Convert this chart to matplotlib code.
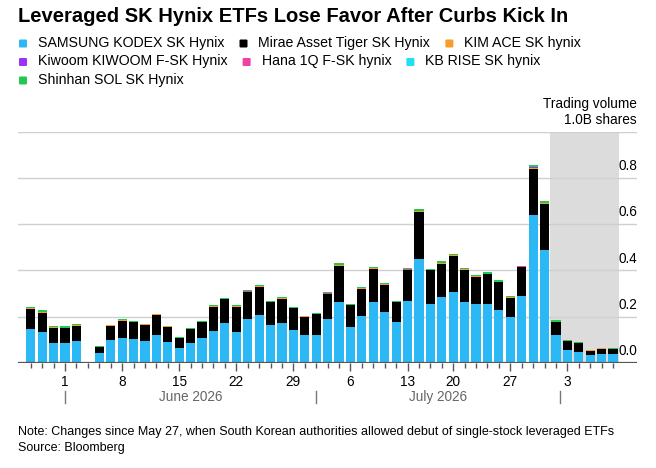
import matplotlib
matplotlib.use("Agg")
import matplotlib.pyplot as plt
import matplotlib.patches as mpatches
import matplotlib.transforms as mtransforms
import numpy as np
import pandas as pd

plt.rcParams["font.family"] = ["Liberation Sans", "DejaVu Sans"]

# trading days: Jul 17 is a holiday and is left out, Jun 3 stays as an empty slot
dates = pd.bdate_range("2026-05-27", "2026-08-07").drop(pd.Timestamp("2026-07-17"))

# trading volume, billions of shares
samsung_kodex = [0.147, 0.134, 0.088, 0.088, 0.096, 0.000, 0.042, 0.099, 0.108, 0.104,
                 0.095, 0.119, 0.091, 0.063, 0.086, 0.108, 0.140, 0.171, 0.134, 0.191,
                 0.209, 0.163, 0.171, 0.141, 0.122, 0.122, 0.192, 0.265, 0.155, 0.205,
                 0.263, 0.220, 0.177, 0.269, 0.450, 0.256, 0.283, 0.308, 0.265, 0.253,
                 0.257, 0.230, 0.197, 0.290, 0.640, 0.489, 0.121, 0.057, 0.049, 0.033,
                 0.039, 0.037]
mirae_tiger = [0.086, 0.081, 0.065, 0.063, 0.065, 0.000, 0.027, 0.062, 0.075, 0.072,
               0.071, 0.090, 0.066, 0.045, 0.059, 0.069, 0.103, 0.104, 0.109, 0.114,
               0.121, 0.099, 0.107, 0.095, 0.078, 0.089, 0.105, 0.156, 0.094, 0.114,
               0.145, 0.119, 0.086, 0.131, 0.203, 0.145, 0.144, 0.156, 0.136, 0.119,
               0.127, 0.120, 0.085, 0.124, 0.197, 0.197, 0.056, 0.036, 0.037, 0.020,
               0.023, 0.023]
kim_ace = [0.003, 0.004, 0.002, 0.002, 0.002, 0.000, 0.001, 0.002, 0.002, 0.002,
           0.001, 0.001, 0.001, 0.001, 0.002, 0.001, 0.002, 0.002, 0.002, 0.003,
           0.003, 0.002, 0.002, 0.002, 0.001, 0.002, 0.003, 0.004, 0.002, 0.003,
           0.003, 0.003, 0.002, 0.003, 0.004, 0.002, 0.004, 0.003, 0.003, 0.003,
           0.002, 0.002, 0.002, 0.002, 0.007, 0.005, 0.002, 0.002, 0.001, 0.001,
           0.001, 0.001]
kiwoom = [0.000, 0.000, 0.000, 0.000, 0.000, 0.000, 0.000, 0.000, 0.000, 0.000,
          0.000, 0.000, 0.000, 0.000, 0.000, 0.000, 0.000, 0.000, 0.000, 0.000,
          0.000, 0.000, 0.000, 0.000, 0.000, 0.000, 0.000, 0.000, 0.000, 0.000,
          0.000, 0.000, 0.000, 0.000, 0.000, 0.000, 0.000, 0.000, 0.000, 0.000,
          0.000, 0.000, 0.000, 0.000, 0.001, 0.000, 0.000, 0.000, 0.000, 0.000,
          0.000, 0.000]
hana = [0.001, 0.001, 0.000, 0.000, 0.000, 0.000, 0.000, 0.000, 0.000, 0.000,
        0.000, 0.000, 0.000, 0.000, 0.000, 0.000, 0.001, 0.000, 0.000, 0.001,
        0.001, 0.000, 0.001, 0.000, 0.000, 0.000, 0.001, 0.000, 0.000, 0.001,
        0.001, 0.001, 0.000, 0.001, 0.000, 0.000, 0.001, 0.001, 0.001, 0.001,
        0.000, 0.000, 0.000, 0.001, 0.002, 0.001, 0.000, 0.000, 0.000, 0.000,
        0.000, 0.000]
kb_rise = [0.000, 0.001, 0.000, 0.000, 0.000, 0.000, 0.000, 0.000, 0.000, 0.000,
           0.000, 0.000, 0.000, 0.000, 0.000, 0.000, 0.000, 0.000, 0.000, 0.000,
           0.000, 0.000, 0.000, 0.000, 0.000, 0.000, 0.000, 0.000, 0.000, 0.000,
           0.000, 0.000, 0.000, 0.000, 0.000, 0.000, 0.000, 0.000, 0.000, 0.000,
           0.000, 0.000, 0.000, 0.000, 0.001, 0.000, 0.000, 0.000, 0.000, 0.000,
           0.000, 0.000]
shinhan = [0.005, 0.008, 0.005, 0.005, 0.005, 0.000, 0.003, 0.003, 0.004, 0.003,
           0.003, 0.003, 0.002, 0.002, 0.003, 0.003, 0.003, 0.004, 0.004, 0.005,
           0.004, 0.004, 0.004, 0.004, 0.002, 0.003, 0.005, 0.008, 0.005, 0.005,
           0.004, 0.004, 0.004, 0.006, 0.009, 0.004, 0.007, 0.005, 0.006, 0.005,
           0.005, 0.005, 0.004, 0.004, 0.009, 0.007, 0.005, 0.003, 0.002, 0.003,
           0.003, 0.002]

series = [
    ("SAMSUNG KODEX SK Hynix", samsung_kodex, "#2bb8f4"),
    ("Mirae Asset Tiger SK Hynix", mirae_tiger, "#000000"),
    ("KIM ACE SK hynix", kim_ace, "#f89c2c"),
    ("Kiwoom KIWOOM F-SK Hynix", kiwoom, "#9b33f5"),
    ("Hana 1Q F-SK hynix", hana, "#f23fa5"),
    ("KB RISE SK hynix", kb_rise, "#1ee0f2"),
    ("Shinhan SOL SK Hynix", shinhan, "#20c94f"),
]

y_ticks = [0.0, 0.2, 0.4, 0.6, 0.8]
shade_start = pd.Timestamp("2026-07-31")

W, H = 656, 468
fig = plt.figure(figsize=(W / 100, H / 100), dpi=100)


def fx(px):
    return px / W


def fy(py):
    return (H - py) / H


ax = fig.add_axes([fx(18), fy(363), fx(637) - fx(18), fy(131.5) - fy(363)])
x = np.arange(len(dates))

# shaded period after the curbs
s0 = list(dates).index(shade_start)
ax.axvspan(s0 - 0.5, x[-1] + 0.5, color="#dcdcdc", lw=0, zorder=0)

bottom = np.zeros(len(x))
for name, vals, color in series:
    vals = np.array(vals)
    ax.bar(x, vals, bottom=bottom, width=0.8, color=color,
           edgecolor="none", zorder=2)
    bottom += vals

for v in y_ticks[1:] + [1.0]:
    ax.axhline(v, color="#cfcfcf", lw=1, zorder=1)
ax.axhline(0, color="#555555", lw=1.6, zorder=3)

ax.set_xlim(-1.12, 53.1)
ax.set_ylim(0, 1.0)
for sp in ax.spines.values():
    sp.set_visible(False)
ax.set_yticks([])

mondays = [i for i, d in enumerate(dates) if d.weekday() == 0]
ax.set_xticks(x, minor=True)
ax.set_xticks(mondays, [str(dates[i].day) for i in mondays])
ax.tick_params(axis="x", which="minor", length=3.5, width=1, color="#555555")
ax.tick_params(axis="x", which="major", length=5.5, width=1, color="#555555",
               labelsize=9.8, pad=3, labelcolor="#000000")

for v in y_ticks:
    ax.annotate(f"{v:.1f}", xy=(1, v), xycoords=("axes fraction", "data"),
                xytext=(0, 3.5), textcoords="offset points",
                ha="right", va="bottom", fontsize=9.8)
ax.annotate("1.0B shares", xy=(1, 1.0), xycoords=("axes fraction", "data"),
            xytext=(0, 3.5), textcoords="offset points",
            ha="right", va="bottom", fontsize=9.8, annotation_clip=False)
fig.text(fx(637), fy(104), "Trading volume", ha="right", va="center",
         fontsize=9.8)

# month separators and labels under the day ticks
trans = mtransforms.blended_transform_factory(ax.transData, fig.transFigure)
ordinals = np.array([d.toordinal() for d in dates])
month_starts = [pd.Timestamp("2026-06-01"), pd.Timestamp("2026-07-01"),
                pd.Timestamp("2026-08-01")]
seps = [np.interp(m.toordinal(), ordinals, x) for m in month_starts]
for s in seps:
    ax.plot([s, s], [fy(391), fy(403)], transform=trans, color="#777777",
            lw=1, clip_on=False)
for (a, b), label in zip(zip(seps[:-1], seps[1:]), ["June 2026", "July 2026"]):
    ax.text((a + b) / 2, fy(397), label, transform=trans, ha="center",
            va="center", fontsize=9.8, color="#666666")

fig.text(fx(18), fy(16), "Leveraged SK Hynix ETFs Lose Favor After Curbs Kick In",
         fontsize=14.5, fontweight="bold", ha="left", va="center")

# flowing legend
renderer = fig.canvas.get_renderer()
lx, ly = 19, 43
for name, vals, color in series:
    t = fig.text(0, 0, name, fontsize=10.2, ha="left", va="center")
    tw = t.get_window_extent(renderer).width
    if lx + 19 + tw > 645:
        lx, ly = 19, ly + 18.5
    t.set_position((fx(lx + 19), fy(ly)))
    fig.patches.append(mpatches.FancyBboxPatch(
        (fx(lx), fy(ly + 4.5)), fx(8), 8 / H,
        boxstyle="round,pad=0,rounding_size=0.002",
        transform=fig.transFigure, facecolor=color, edgecolor="none"))
    lx += 19 + tw + 15

fig.text(fx(18), fy(432),
         "Note: Changes since May 27, when South Korean authorities allowed "
         "debut of single-stock leveraged ETFs", fontsize=9, va="center")
fig.text(fx(18), fy(447.5), "Source: Bloomberg", fontsize=9, va="center")

fig.savefig("out.png", dpi=100, facecolor="white")
